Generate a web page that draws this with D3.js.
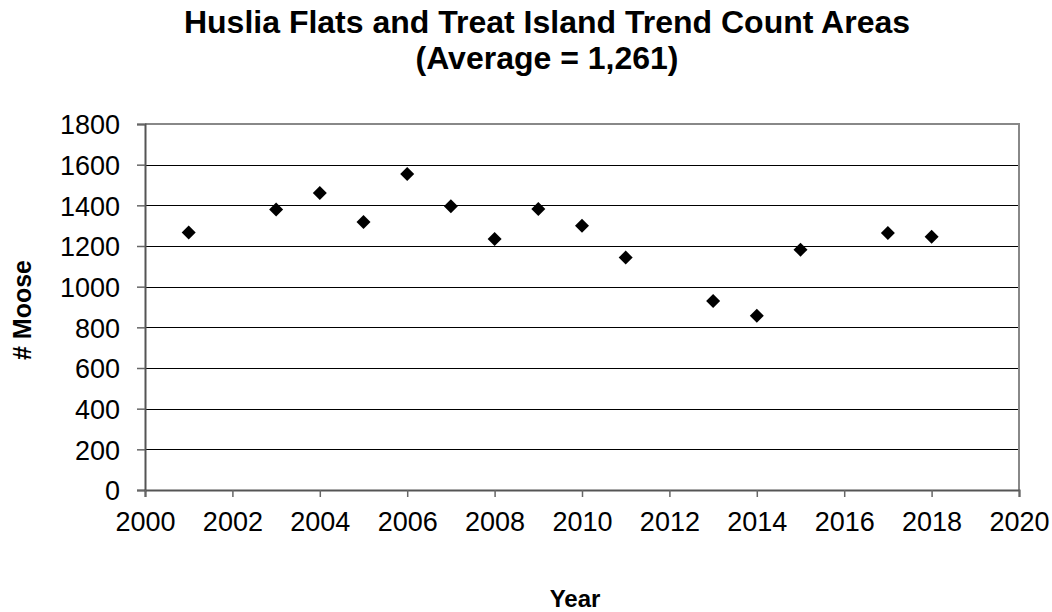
<!DOCTYPE html>
<html>
<head>
<meta charset="utf-8">
<script src="https://cdn.jsdelivr.net/npm/d3@7"></script>
<style>
  body { margin: 0; background: #fff; }
  text { font-family: "Liberation Sans", Arial, sans-serif; }
</style>
</head>
<body>
<div id="chart"></div>
<script>
var width = 1052,
    height = 612;

// moose counts by survey year
var years = [2001, 2003, 2004, 2005, 2006, 2007, 2008, 2009, 2010, 2011, 2013, 2014, 2015, 2017, 2018];
var moose = [1267, 1379, 1461, 1318, 1554, 1395, 1235, 1382, 1300, 1143, 930, 857, 1182, 1264, 1246];

var xTicks = [2000, 2002, 2004, 2006, 2008, 2010, 2012, 2014, 2016, 2018, 2020];
var yTicks = [0, 200, 400, 600, 800, 1000, 1200, 1400, 1600, 1800];

var titleLines = ["Huslia Flats and Treat Island Trend Count Areas", "(Average = 1,261)"];

var margin = {left: 145, right: 33, top: 124, bottom: 122};

var svg = d3.select("#chart").append("svg")
    .attr("width", width)
    .attr("height", height);

var x = d3.scaleLinear()
    .domain([2000, 2020])
    .range([margin.left, width - margin.right]);

var y = d3.scaleLinear()
    .domain([0, 1800])
    .range([height - margin.bottom, margin.top]);

// gridlines
svg.append("g")
  .selectAll("line")
  .data(yTicks.filter(d => d > 0 && d < 1800))
  .enter().append("line")
    .attr("x1", x(2000)).attr("x2", x(2020))
    .attr("y1", d => Math.round(y(d)) + 0.5).attr("y2", d => Math.round(y(d)) + 0.5)
    .attr("stroke", "#000")
    .attr("stroke-width", 1);

// plot border (top, right)
svg.append("path")
    .attr("d", "M" + x(2000) + "," + y(1800) + "H" + x(2020) + "V" + y(0))
    .attr("fill", "none")
    .attr("stroke", "#888")
    .attr("stroke-width", 2);

var yAxis = svg.append("g")
    .attr("transform", "translate(" + x(2000) + ",0)")
    .call(d3.axisLeft(y).tickValues(yTicks).tickSize(8).tickPadding(17).tickFormat(d3.format("d")));

var xAxis = svg.append("g")
    .attr("transform", "translate(0," + y(0) + ")")
    .call(d3.axisBottom(x).tickValues(xTicks).tickSize(7).tickPadding(15).tickFormat(d3.format("d")));

[yAxis, xAxis].forEach(function(ax) {
  ax.select(".domain").attr("stroke", "#555").attr("stroke-width", 2);
  ax.selectAll(".tick line").attr("stroke", "#666").attr("stroke-width", 1.5);
  ax.selectAll(".tick text")
    .attr("fill", "#000")
    .style("font-size", "27px")
    .style("font-family", "'Liberation Sans', Arial, sans-serif");
});
yAxis.selectAll(".tick text").attr("dy", "0.36em");

// points
svg.append("g")
  .selectAll("path")
  .data(years.map((d, i) => ({year: d, count: moose[i]})))
  .enter().append("path")
    .attr("d", d3.symbol(d3.symbolSquare, 98))
    .attr("transform", d => "translate(" + x(d.year) + "," + y(d.count) + ") rotate(45)")
    .attr("fill", "#000");

// title
svg.append("g")
  .selectAll("text")
  .data(titleLines)
  .enter().append("text")
    .attr("x", 547)
    .attr("y", (d, i) => 33 + i * 35.5)
    .attr("text-anchor", "middle")
    .style("font-size", "32px")
    .style("font-weight", "bold")
    .text(d => d);

svg.append("text")
    .attr("x", 575)
    .attr("y", 607)
    .attr("text-anchor", "middle")
    .style("font-size", "24px")
    .style("font-weight", "bold")
    .text("Year");

svg.append("text")
    .attr("transform", "translate(31,310) rotate(-90)")
    .attr("text-anchor", "middle")
    .style("font-size", "25px")
    .style("font-weight", "bold")
    .text("# Moose");
</script>
</body>
</html>
